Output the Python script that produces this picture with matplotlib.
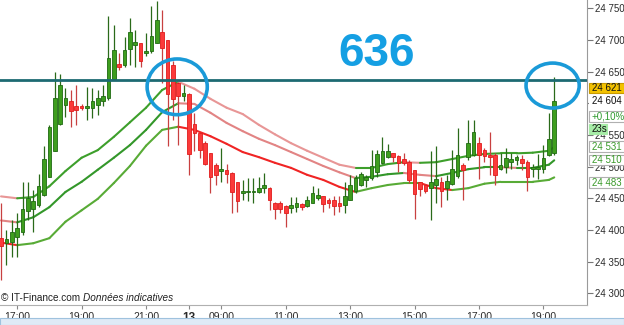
import matplotlib
matplotlib.use("Agg")
import matplotlib.pyplot as plt
import numpy as np
from matplotlib.collections import LineCollection
from matplotlib.patches import Ellipse, Rectangle
from matplotlib.ticker import FuncFormatter, FixedLocator

plt.rcParams['font.family'] = ['Liberation Sans', 'DejaVu Sans']

# ---- candle data (10-minute candles) ----
opens = [24387, 24380, 24381, 24389, 24396, 24430, 24433, 24439, 24455, 24484,
         24525, 24567, 24598, 24603, 24596, 24595, 24592, 24592, 24597, 24603,
         24608, 24639, 24662, 24661, 24685, 24692, 24695, 24680, 24682, 24695,
         24712, 24700, 24660, 24632, 24611, 24614, 24567, 24553, 24538, 24521,
         24503, 24493, 24495, 24490, 24475, 24459, 24460, 24460, 24460, 24466,
         24467, 24443, 24443, 24438, 24434, 24437, 24441, 24438, 24442, 24450,
         24453, 24447, 24447, 24442, 24439, 24447, 24461, 24471, 24479, 24482,
         24491, 24505, 24515, 24521, 24517, 24512, 24508, 24495, 24475, 24471,
         24467, 24471, 24476, 24467, 24473, 24485, 24502, 24515, 24518, 24537,
         24526, 24518, 24518, 24497, 24500, 24508, 24510, 24512, 24508, 24497,
         24496, 24497, 24518, 24521]
highs = [24442, 24400, 24416, 24426, 24476, 24476, 24463, 24489, 24532, 24566,
         24650, 24647, 24624, 24621, 24629, 24599, 24626, 24624, 24621, 24629,
         24738, 24724, 24679, 24705, 24734, 24716, 24695, 24711, 24753, 24762,
         24747, 24700, 24666, 24634, 24629, 24616, 24584, 24553, 24540, 24521,
         24505, 24529, 24504, 24491, 24476, 24479, 24482, 24482, 24484, 24490,
         24468, 24444, 24445, 24439, 24452, 24452, 24442, 24453, 24469, 24466,
         24453, 24450, 24453, 24454, 24476, 24487, 24487, 24492, 24487, 24527,
         24527, 24547, 24535, 24522, 24518, 24521, 24511, 24495, 24476, 24472,
         24524, 24532, 24484, 24487, 24526, 24561, 24505, 24573, 24573, 24547,
         24530, 24555, 24521, 24521, 24529, 24521, 24518, 24518, 24510, 24504,
         24520, 24534, 24585, 24642]
lows = [24321, 24345, 24358, 24358, 24392, 24416, 24397, 24437, 24453, 24484,
        24524, 24566, 24579, 24563, 24566, 24589, 24574, 24576, 24582, 24595,
        24605, 24637, 24653, 24658, 24661, 24658, 24658, 24674, 24679, 24695,
        24632, 24532, 24574, 24534, 24603, 24487, 24524, 24513, 24503, 24459,
        24471, 24475, 24474, 24426, 24429, 24447, 24445, 24442, 24458, 24458,
        24432, 24418, 24426, 24405, 24426, 24429, 24432, 24437, 24442, 24447,
        24429, 24434, 24424, 24429, 24426, 24447, 24458, 24469, 24468, 24479,
        24483, 24504, 24513, 24508, 24491, 24503, 24474, 24418, 24453, 24458,
        24415, 24442, 24437, 24447, 24471, 24482, 24448, 24511, 24516, 24480,
        24508, 24487, 24471, 24495, 24490, 24497, 24503, 24495, 24461, 24483,
        24480, 24490, 24517, 24518]
closes = [24374, 24385, 24397, 24403, 24433, 24451, 24445, 24469, 24512, 24563,
          24609, 24629, 24609, 24588, 24589, 24593, 24596, 24603, 24608, 24611,
          24671, 24684, 24657, 24684, 24712, 24696, 24666, 24683, 24706, 24731,
          24687, 24615, 24606, 24611, 24617, 24520, 24553, 24527, 24504, 24484,
          24486, 24496, 24488, 24460, 24445, 24461, 24461, 24461, 24467, 24471,
          24447, 24433, 24433, 24427, 24439, 24442, 24437, 24448, 24458, 24455,
          24441, 24442, 24438, 24438, 24453, 24471, 24482, 24488, 24483, 24501,
          24520, 24525, 24525, 24515, 24506, 24506, 24479, 24457, 24464, 24462,
          24475, 24480, 24462, 24478, 24496, 24518, 24495, 24537, 24555, 24518,
          24516, 24515, 24487, 24503, 24513, 24512, 24515, 24505, 24483, 24500,
          24499, 24513, 24544, 24604]

# ---- envelope lines (sampled by candle index) ----
band_idx = [0, 3, 6, 9, 12, 15, 18, 21, 24, 27, 30, 33, 36, 39, 42, 45, 48, 51,
            54, 57, 60, 63, 66, 69, 72, 75, 78, 81, 84, 87, 90, 93, 96, 99, 102, 103]
band_upper = [24453, 24450, 24452, 24469, 24493, 24514, 24526, 24547, 24570, 24593,
              24621, 24634, 24623, 24607, 24593, 24583, 24566, 24551, 24537, 24525,
              24514, 24503, 24498, 24498, 24504, 24507, 24506, 24507, 24512, 24517,
              24520, 24521, 24521, 24522, 24525, 24531]
band_mid = [24415, 24412, 24420, 24436, 24460, 24476, 24495, 24514, 24534, 24558,
            24586, 24600, 24599, 24585, 24569, 24556, 24544, 24534, 24523, 24512,
            24501, 24491, 24482, 24484, 24488, 24490, 24487, 24485, 24490, 24496,
            24499, 24499, 24498, 24498, 24503, 24510]
band_lower = [24380, 24376, 24379, 24387, 24413, 24431, 24449, 24474, 24501, 24533,
              24558, 24563, 24558, 24548, 24536, 24523, 24515, 24506, 24498, 24487,
              24479, 24468, 24460, 24466, 24471, 24474, 24474, 24466, 24463, 24466,
              24473, 24476, 24476, 24476, 24479, 24483]

level = 24636
level_text = "636"
xtick_idx = [3, 15, 27, 35, 41, 53, 65, 77, 89, 101]
xtick_labels = ["17:00", "19:00", "21:00", "13", "09:00", "11:00", "13:00",
                "15:00", "17:00", "19:00"]
ytick_vals = [24300, 24350, 24400, 24450, 24500, 24550, 24600, 24650, 24700, 24750]

W, H = 624, 325
fig = plt.figure(figsize=(W / 100, H / 100), dpi=100)
ax = fig.add_axes([0, 20 / H, 587 / W, 1 - 20 / H])

ax.set_xlim(-0.19, 109.1)
ax.set_ylim(24281.5, 24763.1)

# envelope lines colored by slope
def band(vals, up_col, dn_col, lw=1.5):
    xs = np.array(band_idx, dtype=float)
    ys = np.array(vals, dtype=float)
    segs = [[(xs[i], ys[i]), (xs[i + 1], ys[i + 1])] for i in range(len(xs) - 1)]
    cols = [up_col if ys[i + 1] >= ys[i] else dn_col for i in range(len(xs) - 1)]
    lc = LineCollection(segs, colors=cols, linewidths=lw, zorder=2,
                        capstyle='round', joinstyle='round')
    ax.add_collection(lc)

band(band_upper, '#3d9f2b', '#e89696')
band(band_mid, '#33972a', '#e28484')
band(band_lower, '#58ab36', '#f02424')

# candles
idx = np.arange(len(opens))
o = np.array(opens, float); c = np.array(closes, float)
h = np.array(highs, float); l = np.array(lows, float)
up = c >= o
wick_cols = np.where(up, '#2a6a1a', '#c84040')
ax.vlines(idx, l, h, colors=wick_cols, linewidth=0.9, zorder=3)
bottoms = np.minimum(o, c)
heights = np.maximum(np.abs(c - o), 1.6)
ax.bar(idx[up], heights[up], bottom=bottoms[up], width=0.68,
       color='#3e9e1e', edgecolor='#1f6a12', linewidth=0.6, zorder=4)
ax.bar(idx[~up], heights[~up], bottom=bottoms[~up], width=0.68,
       color='#fb3a3a', edgecolor='#e01c1c', linewidth=0.6, zorder=4)

# horizontal level line
ax.axhline(level, color='#1d6a72', linewidth=2.0, zorder=5)

# circles
ax.add_patch(Ellipse((32.8, 24626), 11.2, 88, fill=False, edgecolor='#1a9ad8',
                     linewidth=2.6, zorder=6))
ax.add_patch(Ellipse((102.7, 24628), 9.9, 71, fill=False, edgecolor='#1a9ad8',
                     linewidth=2.6, zorder=6))

# axes styling
for s in ['top', 'left']:
    ax.spines[s].set_visible(False)
ax.spines['right'].set_color('#9a9a9a')
ax.spines['bottom'].set_color('#b0b0b0')
ax.yaxis.tick_right()
ax.yaxis.set_major_locator(FixedLocator(ytick_vals))
ax.yaxis.set_major_formatter(FuncFormatter(lambda v, p: f"{int(v) // 1000} {int(v) % 1000:03d}"))
ax.tick_params(axis='y', direction='out', length=4, width=0.8, color='#777777',
               labelsize=7, labelcolor='#2a2a2a', pad=1.5)
ax.set_xticks(xtick_idx)
ax.set_xticklabels(xtick_labels)
ax.tick_params(axis='x', direction='out', length=3, width=0.8, color='#888888',
               labelsize=7.5, labelcolor='#2a2a2a', pad=2)
for t in ax.get_xticklabels():
    if t.get_text() == "13":
        t.set_fontweight('bold')
        t.set_fontsize(8.5)
ax.set_facecolor('white')

# big level text
fig.text(377 / W, 1 - 54 / H, level_text, color='#159fe3', fontsize=33,
         fontweight='bold', ha='center', va='center')

# watermark
fig.text(1 / W, 1 - 298 / H, "\u00a9 IT-Finance.com", fontsize=7.2, color='#202020',
         ha='left', va='center')
fig.text(83 / W, 1 - 298 / H, "Donn\u00e9es indicatives", fontsize=7.2, color='#202020',
         style='italic', ha='left', va='center')

# right side value labels
def label_box(ypx, text, fc, ec, tc, x0=589, x1=627, hgt=10.5):
    fig.patches.append(Rectangle((x0 / W, 1 - (ypx + hgt / 2) / H), (x1 - x0) / W, hgt / H,
                                 transform=fig.transFigure, facecolor=fc, edgecolor=ec,
                                 linewidth=0.8, zorder=5))
    fig.text(592 / W, 1 - ypx / H, text, color=tc, fontsize=7, ha='left',
             va='center', zorder=6)

label_box(88, "24 621", '#f3c200', '#c89a00', '#111111')
label_box(101.5, "24 604", 'white', 'white', '#111111')
label_box(116.5, "+0,10%", 'white', '#b0b0b0', '#2f9a2f')
label_box(129, "23s", '#a6eca6', '#a6eca6', '#111111', x1=607)
label_box(146.5, "24 531", 'white', '#b0b0b0', '#3a9a2a')
label_box(160, "24 510", 'white', '#b0b0b0', '#3a9a2a')
label_box(182.5, "24 483", 'white', '#b0b0b0', '#3a9a2a')

# bottom light-blue band
fig.patches.append(Rectangle((0, 0), 1, 7 / H, transform=fig.transFigure,
                             facecolor='#dfeaf6', edgecolor='#9fc2de', linewidth=0.8,
                             zorder=1))

fig.savefig("out.png", dpi=100)
